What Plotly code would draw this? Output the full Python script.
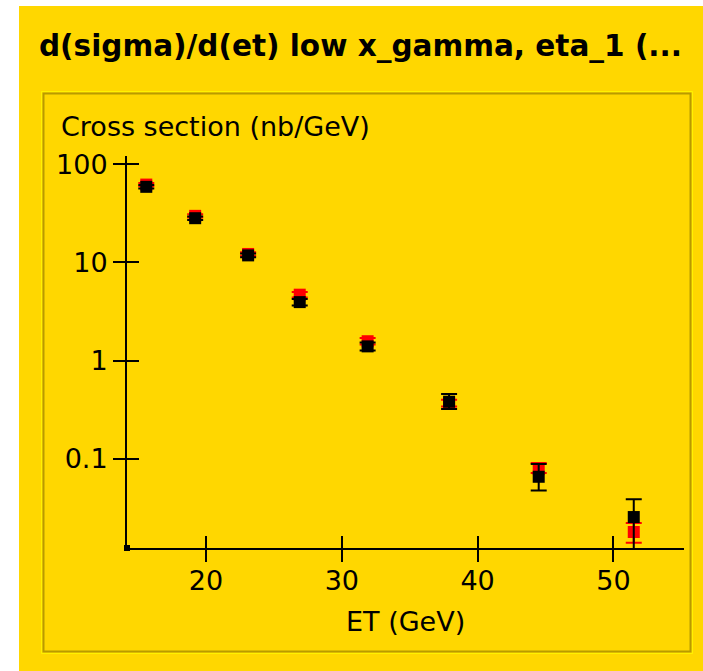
import plotly.graph_objects as go

# Transverse energy bins (GeV)
et = [15.6, 19.2, 23.1, 26.9, 31.9, 37.9, 44.5, 51.5]

# Measured cross section (nb/GeV) with asymmetric errors
data_xs = [58.8, 28.2, 11.8, 3.95, 1.40, 0.383, 0.066, 0.0257]
data_err_up = [2.4, 1.2, 0.5, 0.30, 0.13, 0.075, 0.023, 0.0133]
data_err_dn = [2.4, 1.2, 0.5, 0.30, 0.13, 0.060, 0.018, 0.0140]

# Prediction (nb/GeV) with asymmetric errors
pred_xs = [62.0, 29.8, 12.2, 4.70, 1.58, 0.372, 0.079, 0.0181]
pred_err_up = [2.5, 1.2, 0.5, 0.30, 0.12, 0.030, 0.012, 0.0043]
pred_err_dn = [2.5, 1.2, 0.5, 0.30, 0.12, 0.030, 0.007, 0.0040]

x_ticks = [20, 30, 40, 50]
y_ticks = [0.1, 1, 10, 100]
y_tick_text = ["0.1", "1", "10", "100"]

title_text = "d(sigma)/d(et) low x_gamma, eta_1 (..."
y_title = "Cross section (nb/GeV)"
x_title = "ET (GeV)"

W, H = 703, 671
ML, MR, MT, MB = 127, 19, 156, 123
PW, PH = W - ML - MR, H - MT - MB

GOLD = "#FFD700"
FONT = "DejaVu Sans"


def xp(px):
    return (px - ML) / PW


def yp(py):
    return (H - MB - py) / PH


fig = go.Figure()

fig.add_trace(go.Scatter(
    x=et, y=pred_xs, mode="markers",
    marker=dict(symbol="square", size=12, color="#FF0000"),
    error_y=dict(type="data", symmetric=False, array=pred_err_up,
                 arrayminus=pred_err_dn, color="#FF0000", thickness=2, width=8),
    showlegend=False, cliponaxis=True,
))
fig.add_trace(go.Scatter(
    x=et, y=data_xs, mode="markers",
    marker=dict(symbol="square", size=12, color="#000000"),
    error_y=dict(type="data", symmetric=False, array=data_err_up,
                 arrayminus=data_err_dn, color="#000000", thickness=2, width=8),
    showlegend=False, cliponaxis=True,
))
# invisible trace bound to the overlay axes so the inner tick halves render
fig.add_trace(go.Scatter(x=[et[0]], y=[data_xs[0]], xaxis="x2", yaxis="y2",
                         mode="markers", marker=dict(opacity=0),
                         showlegend=False, hoverinfo="skip"))

axis_common = dict(showgrid=False, zeroline=False, linecolor="black",
                   linewidth=2, tickcolor="black", tickwidth=2, ticklen=12,
                   tickfont=dict(family=FONT, size=27, color="black"))

fig.update_layout(
    width=W, height=H,
    margin=dict(l=ML, r=MR, t=MT, b=MB, pad=0),
    paper_bgcolor=GOLD, plot_bgcolor="rgba(0,0,0,0)",
    xaxis=dict(range=[14.18, 55.2], tickmode="array", tickvals=x_ticks,
               ticks="outside", showline=True, ticklabelstandoff=-4,
               **axis_common),
    yaxis=dict(type="log", range=[-1.905, 2.083], tickmode="array",
               tickvals=y_ticks, ticktext=y_tick_text, ticks="outside",
               showline=True, ticklabelstandoff=0, **axis_common),
    xaxis2=dict(overlaying="x", matches="x", anchor="y2", tickmode="array",
                tickvals=x_ticks, ticks="inside", showticklabels=False,
                showline=False, **axis_common),
    yaxis2=dict(overlaying="y", matches="y", type="log", anchor="x2",
                tickmode="array", tickvals=y_ticks, ticks="inside",
                showticklabels=False, showline=False, **axis_common),
    showlegend=False,
)

shapes = [
    # white strips along the top and left edges of the window
    dict(type="rect", xref="paper", yref="paper", x0=xp(0), x1=xp(19),
         y0=yp(H), y1=yp(0), fillcolor="white", line=dict(width=0),
         layer="below"),
    dict(type="rect", xref="paper", yref="paper", x0=xp(0), x1=xp(W),
         y0=yp(6), y1=yp(0), fillcolor="white", line=dict(width=0),
         layer="below"),
    # bevelled panel frame
    dict(type="rect", xref="paper", yref="paper", x0=xp(41.5), x1=xp(692.5),
         y0=yp(653.5), y1=yp(91.5), line=dict(color="#FFF200", width=1),
         layer="below"),
    dict(type="rect", xref="paper", yref="paper", x0=xp(43.5), x1=xp(690.5),
         y0=yp(651.5), y1=yp(93.5), line=dict(color="#B89B00", width=2),
         layer="below"),
    # origin corner dot
    dict(type="rect", xref="paper", yref="paper", x0=xp(124), x1=xp(130),
         y0=yp(551), y1=yp(545), fillcolor="black", line=dict(width=0)),
]
fig.update_layout(shapes=shapes)

fig.add_annotation(text=f"<b>{title_text}</b>", xref="paper", yref="paper",
                   x=xp(37), y=yp(46), xanchor="left", yanchor="middle",
                   showarrow=False, font=dict(family=FONT, size=29.5, color="black"))
fig.add_annotation(text=y_title, xref="paper", yref="paper",
                   x=xp(59), y=yp(126), xanchor="left", yanchor="middle",
                   showarrow=False, font=dict(family=FONT, size=27, color="black"))
fig.add_annotation(text=x_title, xref="paper", yref="paper",
                   x=xp(405), y=yp(621), xanchor="center", yanchor="middle",
                   showarrow=False, font=dict(family=FONT, size=27, color="black"))

fig.write_html("out.html")
